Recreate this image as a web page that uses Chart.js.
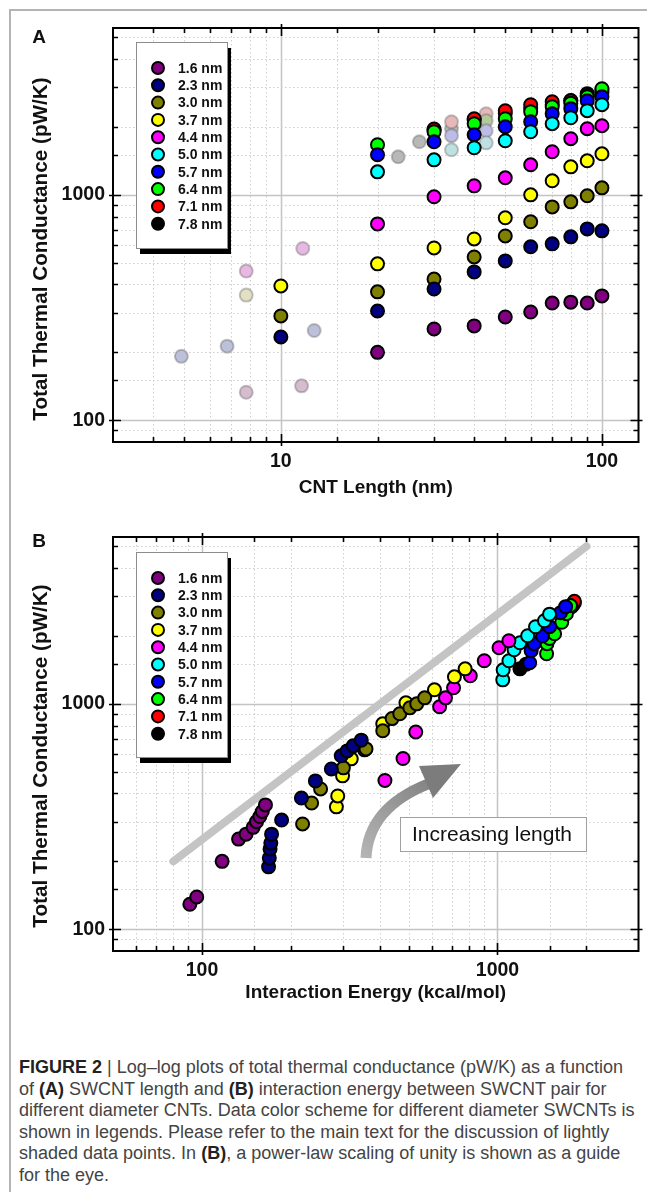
<!DOCTYPE html>
<html>
<head>
<meta charset="utf-8">
<script src="https://cdn.jsdelivr.net/npm/chart.js@4.4.1/dist/chart.umd.min.js"></script>
<style>
html, body { margin: 0; padding: 0; background: #fff; }
#page { position: relative; width: 647px; height: 1192px; overflow: hidden; background: #fff; }
#edge { position: absolute; left: 9px; top: 9px; width: 700px; height: 1300px; border-left: 2px solid #b4b4b4; border-top: 2px solid #b4b4b4; }
canvas { position: absolute; left: 0; }
#cA { top: 0; }
#cB { top: 509px; }
#caption { position: absolute; left: 19px; top: 1057px; font-family: "Liberation Sans", Arial, sans-serif; font-size: 18px; line-height: 21.6px; color: #444; white-space: nowrap; }
#caption b { color: #222; }
</style>
</head>
<body>
<div id="page">
  <div id="edge"></div>
  <canvas id="cA" width="647" height="500"></canvas>
  <canvas id="cB" width="647" height="500"></canvas>
  <div id="caption">
    <div><b>FIGURE 2</b> | Log–log plots of total thermal conductance (pW/K) as a function</div>
    <div>of <b>(A)</b> SWCNT length and <b>(B)</b> interaction energy between SWCNT pair for</div>
    <div>different diameter CNTs. Data color scheme for different diameter SWCNTs is</div>
    <div>shown in legends. Please refer to the main text for the discussion of lightly</div>
    <div>shaded data points. In <b>(B)</b>, a power-law scaling of unity is shown as a guide</div>
    <div>for the eye.</div>
  </div>
</div>
<script>
// --- DATA ---
const diameters = ['1.6 nm', '2.3 nm', '3.0 nm', '3.7 nm', '4.4 nm', '5.0 nm', '5.7 nm', '6.4 nm', '7.1 nm', '7.8 nm'];
const dotColors = ['#800080', '#000080', '#808000', '#ffff00', '#ff00ff', '#00ffff', '#0000ff', '#00ff00', '#ff0000', '#000000'];

// (A) conductance (pW/K) vs CNT length (nm)
const lengths = [10, 20, 30, 40, 50, 60, 70, 80, 90, 100];
const gA16 = [null, 200, 254, 262, 287, 302, 331, 334, 331, 356];
const gA23 = [234, 305, 382, 455, 509, 588, 606, 651, 706, 692];
const gA30 = [290, 371, 423, 530, 657, 759, 884, 931, 990, 1074];
const gA37 = [394, 494, 581, 637, 791, 1000, 1154, 1331, 1416, 1521];
const gA44 = [null, 743, 980, 1096, 1190, 1359, 1553, 1774, 1965, 2027];
const gA50 = [null, 1265, 1430, 1618, 1738, 1905, 2068, 2198, 2362, 2512];
const gA57 = [null, 1506, 1720, 1848, 2005, 2110, 2291, 2412, 2617, 2727];
const gA64 = [null, 1668, 1905, 2068, 2177, 2337, 2461, 2550, 2727, 2958];
const gA71 = [null, null, 1960, 2177, 2362, 2512, 2590, 2617, 2750, 2850];
const gA78 = [null, null, 1940, 2150, 2300, 2420, 2520, 2620, 2812, 2900];

// (A) lightly shaded points
const fadeLen16 = [7.8, 11.6], fadeG16 = [133, 142];
const fadeLen23 = [4.9, 6.8, 12.7], fadeG23 = [192, 213, 250];
const fadeLen30 = [7.8], fadeG30 = [359];
const fadeLen44 = [7.8, 11.7], fadeG44 = [459, 578];
const fadeLen50 = [34, 43.6], fadeG50 = [1585, 1701];
const fadeLen57 = [34, 43.6], fadeG57 = [1830, 1924];
const fadeLen64 = [43.6], fadeG64 = [2133];
const fadeLen71 = [34, 43.6], fadeG71 = [2110, 2290];
const fadeLen78 = [23.2, 27, 34], fadeG78 = [1475, 1720, 1965];

// (B) conductance (pW/K) vs interaction energy (kcal/mol)
const eB16 = [91, 96, 117, 133, 141, 149, 153, 157, 160, 164];
const gB16 = [129, 139, 200, 251, 264, 283, 300, 316, 333, 356];
const eB23 = [168, 169, 170, 171, 172, 186, 217, 242, 274, 296, 310, 325, 346];
const gB23 = [189, 207, 227, 241, 264, 305, 382, 455, 514, 588, 618, 651, 690];
const eB30 = [219, 235, 252, 301, 359, 409, 440, 467, 505, 533, 567];
const gB30 = [293, 363, 419, 520, 631, 759, 860, 903, 960, 1000, 1063];
const eB37 = [285, 288, 299, 320, 355, 409, 490, 612, 715, 777];
const gB37 = [349, 390, 479, 570, 625, 815, 1010, 1154, 1318, 1430];
const eB44 = [416, 479, 529, 637, 667, 710, 809, 902, 1012, 1093];
const gB44 = [457, 572, 750, 970, 1063, 1178, 1332, 1553, 1774, 1905];
const eB50 = [1042, 1045, 1093, 1138, 1191, 1265, 1345, 1442, 1500];
const gB50 = [1278, 1416, 1553, 1738, 1866, 2005, 2198, 2337, 2500];
const eB57 = [1285, 1300, 1330, 1420, 1500, 1633, 1700];
const gB57 = [1521, 1720, 1850, 2000, 2200, 2535, 2700];
const eB64 = [1466, 1470, 1500, 1560, 1650, 1711, 1766];
const gB64 = [1668, 1848, 1950, 2046, 2300, 2512, 2730];
const eB71 = [1800, 1820];
const gB71 = [2750, 2850];
const eB78 = [1191, 1250, 1780, 1820];
const gB78 = [1430, 1500, 2700, 2800];

// unity power-law guide
const guideE = [80, 2000];
const guideG = [200, 5000];

const FONT = '"Liberation Sans", Arial, Helvetica, sans-serif';

// --- HELPERS ---
function pts(xs, ys) {
    return xs.map((x, i) => ({ x: x, y: ys[i] })).filter(p => p.y != null);
}
function isDecade(v) { const l = Math.log10(v); return Math.abs(l - Math.round(l)) < 1e-6; }

function dotSet(data, i) {
    return { data: data, pointRadius: 6.5, pointBorderWidth: 2, pointBorderColor: '#000',
        pointBackgroundColor: dotColors[i], backgroundColor: dotColors[i], showLine: false };
}
function fadeSet(data, fill) {
    return { data: data, pointRadius: 6.5, pointBorderWidth: 2, pointBorderColor: 'rgba(90,90,90,0.35)',
        pointBackgroundColor: fill, showLine: false, order: 50 };
}

function gridLine(ctx, major, x1, y1, x2, y2) {
    ctx.beginPath();
    if (major) { ctx.setLineDash([]); ctx.strokeStyle = '#c4c4c4'; ctx.lineWidth = 1.5; }
    else { ctx.setLineDash([1.5, 2.5]); ctx.strokeStyle = '#cfcfcf'; ctx.lineWidth = 1; }
    ctx.moveTo(x1, y1); ctx.lineTo(x2, y2); ctx.stroke();
}

const figPlugin = {
    id: 'fig',
    beforeDatasetsDraw(chart) {
        const { ctx, chartArea: a } = chart;
        const xs = chart.scales.x, ys = chart.scales.y;
        ctx.save();
        xs.ticks.forEach(t => {
            if (t.value <= xs.min || t.value >= xs.max) return;
            const p = Math.round(xs.getPixelForValue(t.value)) + 0.5;
            gridLine(ctx, isDecade(t.value), p, a.top, p, a.bottom);
        });
        ys.ticks.forEach(t => {
            if (t.value <= ys.min || t.value >= ys.max) return;
            const p = Math.round(ys.getPixelForValue(t.value)) + 0.5;
            gridLine(ctx, isDecade(t.value), a.left, p, a.right, p);
        });
        ctx.restore();
    },
    afterDatasetsDraw(chart, args, o) {
        const { ctx, chartArea: a } = chart;
        const xs = chart.scales.x, ys = chart.scales.y;
        ctx.save();
        ctx.setLineDash([]);
        ctx.strokeStyle = '#000';
        ctx.lineWidth = 2;
        ctx.strokeRect(a.left, a.top, a.right - a.left, a.bottom - a.top);

        // inward ticks on all four sides
        ctx.lineWidth = 1.6;
        ctx.beginPath();
        xs.ticks.forEach(t => {
            if (t.value <= xs.min || t.value >= xs.max) return;
            const p = Math.round(xs.getPixelForValue(t.value)) + 0.5;
            const big = isDecade(t.value), len = big ? 8 : 5, out = big ? 4 : 0;
            ctx.moveTo(p, a.bottom + out); ctx.lineTo(p, a.bottom - len);
            ctx.moveTo(p, a.top - out); ctx.lineTo(p, a.top + len);
        });
        ys.ticks.forEach(t => {
            if (t.value <= ys.min || t.value >= ys.max) return;
            const p = Math.round(ys.getPixelForValue(t.value)) + 0.5;
            const big = isDecade(t.value), len = big ? 8 : 5, out = big ? 4 : 0;
            ctx.moveTo(a.left - out, p); ctx.lineTo(a.left + len, p);
            ctx.moveTo(a.right + out, p); ctx.lineTo(a.right - len, p);
        });
        ctx.stroke();

        // legend box with drop shadow
        const L = o.legend;
        ctx.fillStyle = '#000';
        ctx.fillRect(L.x + 4, L.y + 6, L.w, L.h);
        ctx.fillStyle = '#fff';
        ctx.fillRect(L.x, L.y, L.w, L.h);
        ctx.strokeStyle = '#8c8c8c'; ctx.lineWidth = 1;
        ctx.strokeRect(L.x + 0.5, L.y + 0.5, L.w, L.h);
        ctx.font = 'bold 14px ' + FONT;
        ctx.textBaseline = 'middle'; ctx.textAlign = 'left';
        diameters.forEach((d, i) => {
            const cy = L.y + 26 + i * 17.3;
            ctx.beginPath();
            ctx.arc(L.x + 22, cy, 6, 0, Math.PI * 2);
            ctx.fillStyle = dotColors[i]; ctx.fill();
            ctx.lineWidth = 2; ctx.strokeStyle = '#000'; ctx.stroke();
            ctx.fillStyle = '#111';
            ctx.fillText(d, L.x + 42, cy + 1);
        });

        // axis titles
        ctx.fillStyle = '#111';
        ctx.textAlign = 'center'; ctx.textBaseline = 'middle';
        ctx.font = 'bold 19px ' + FONT;
        ctx.fillText(o.xTitle, (a.left + a.right) / 2, o.xTitleY);
        ctx.save();
        ctx.translate(41.5, o.yTitleY);
        ctx.rotate(-Math.PI / 2);
        ctx.font = 'bold 20.7px ' + FONT;
        ctx.fillText('Total Thermal Conductance (pW/K)', 0, 0);
        ctx.restore();

        // panel letter
        ctx.font = 'bold 19px ' + FONT;
        ctx.fillText(o.letter, 39, o.letterY);

        if (o.extra) o.extra(ctx);
        ctx.restore();
    }
};

function axisOpts(min, max, labels, fit) {
    return {
        type: 'logarithmic', min: min, max: max,
        grid: { display: false, drawTicks: false },
        border: { display: false },
        ticks: {
            autoSkip: false, maxRotation: 0, padding: 8, color: '#111',
            font: { family: FONT, size: 19.5, weight: 'bold' },
            callback: v => labels.includes(v) ? String(v) : ''
        },
        afterFit: fit
    };
}

function makeChart(id, datasets, xMin, xMax, xLabels, figOpts) {
    return new Chart(document.getElementById(id), {
        type: 'scatter',
        data: { datasets: datasets },
        options: {
            responsive: false, animation: false, events: [],
            layout: { padding: { top: 28, right: 7, left: 0, bottom: 0 } },
            plugins: { legend: { display: false }, tooltip: { enabled: false }, fig: figOpts },
            scales: {
                x: axisOpts(xMin, xMax, xLabels, s => { s.height = 58; }),
                y: axisOpts(80, 5500, [100, 1000], s => { s.width = 113; })
            }
        },
        plugins: [figPlugin]
    });
}

// --- PANEL A ---
const gA = [gA16, gA23, gA30, gA37, gA44, gA50, gA57, gA64, gA71, gA78];
const setsA = gA.map((g, i) => dotSet(pts(lengths, g), i));
setsA.push(
    fadeSet(pts(fadeLen16, fadeG16), '#d6bccf'),
    fadeSet(pts(fadeLen23, fadeG23), '#bcc0d8'),
    fadeSet(pts(fadeLen30, fadeG30), '#e2e0c2'),
    fadeSet(pts(fadeLen44, fadeG44), '#e6b8e2'),
    fadeSet(pts(fadeLen50, fadeG50), '#bfe0e0'),
    fadeSet(pts(fadeLen57, fadeG57), '#bcbce6'),
    fadeSet(pts(fadeLen64, fadeG64), '#b4c89c'),
    fadeSet(pts(fadeLen71, fadeG71), '#e6b8b8'),
    fadeSet(pts(fadeLen78, fadeG78), '#b8b8b8')
);
makeChart('cA', setsA, 3, 130, [10, 100], {
    xTitle: 'CNT Length (nm)', xTitleY: 488, yTitleY: 249, letter: 'A', letterY: 38,
    legend: { x: 136, y: 42, w: 91, h: 206 }
});

// --- PANEL B ---
const eB = [eB16, eB23, eB30, eB37, eB44, eB50, eB57, eB64, eB71, eB78];
const gB = [gB16, gB23, gB30, gB37, gB44, gB50, gB57, gB64, gB71, gB78];
const setsB = eB.map((e, i) => dotSet(pts(e, gB[i]), i));
setsB.push({
    data: pts(guideE, guideG), showLine: true, borderColor: '#c4c4c4', borderWidth: 8,
    borderCapStyle: 'round', pointRadius: 0, order: 100
});
makeChart('cB', setsB, 50, 3000, [100, 1000], {
    xTitle: 'Interaction Energy (kcal/mol)', xTitleY: 484, yTitleY: 247, letter: 'B', letterY: 33,
    legend: { x: 136, y: 43, w: 91, h: 205 },
    extra: ctx => {
        // "Increasing length" arrow
        const grad = ctx.createLinearGradient(366, 349, 440, 260);
        grad.addColorStop(0, '#b4b4b4'); grad.addColorStop(1, '#7c7c7c');
        ctx.strokeStyle = grad; ctx.lineWidth = 11; ctx.lineCap = 'butt';
        ctx.beginPath(); ctx.moveTo(366, 349); ctx.quadraticCurveTo(368, 299, 428, 275); ctx.stroke();
        ctx.fillStyle = '#7c7c7c';
        ctx.beginPath(); ctx.moveTo(419, 257); ctx.lineTo(461, 255); ctx.lineTo(433, 289); ctx.closePath(); ctx.fill();
        // label box
        ctx.fillStyle = '#fff'; ctx.fillRect(400, 308, 186, 34);
        ctx.strokeStyle = '#a0a0a0'; ctx.lineWidth = 1; ctx.strokeRect(400.5, 308.5, 186, 34);
        ctx.fillStyle = '#111'; ctx.font = '21px ' + FONT;
        ctx.textAlign = 'center'; ctx.textBaseline = 'middle';
        ctx.fillText('Increasing length', 492, 326);
    }
});
</script>
</body>
</html>
